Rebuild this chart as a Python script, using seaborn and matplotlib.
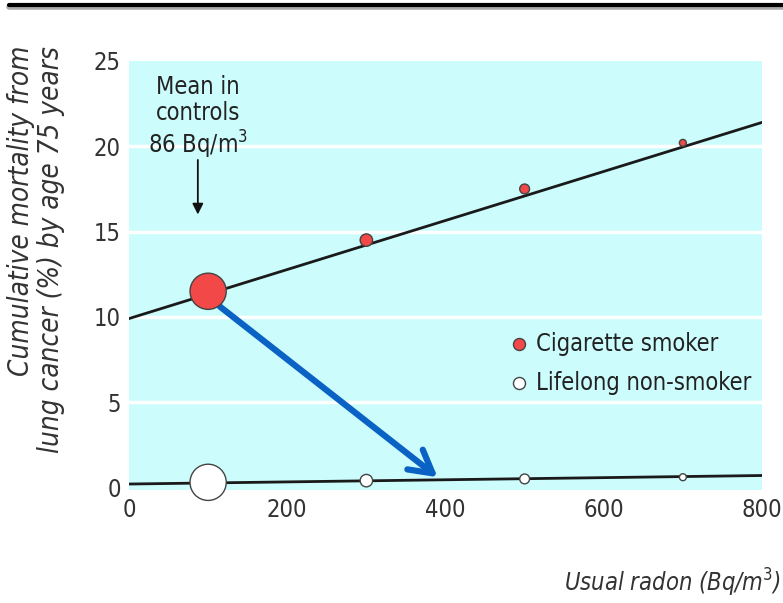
import numpy as np
import pandas as pd
import matplotlib.pyplot as plt
import seaborn as sns

# data
radon = [100, 300, 500, 700]
smoker_risk = [11.5, 14.5, 17.5, 20.2]
nonsmoker_risk = [0.3, 0.4, 0.5, 0.6]
point_size = [680, 80, 50, 25]

line_x = [0, 800]
smoker_line = [9.9, 21.4]
nonsmoker_line = [0.2, 0.7]

x_ticks = [0, 200, 400, 600, 800]
y_ticks = [0, 5, 10, 15, 20, 25]

sns.set_style("white", {"axes.facecolor": "#ccfcfc"})
plt.rcParams['font.family'] = ['DejaVu Sans']
plt.rcParams['font.stretch'] = 'condensed'

fig = plt.figure(figsize=(7.83, 6.03), dpi=100)
ax = fig.add_axes([129 / 783, 1 - 490 / 603, 633 / 783, 429 / 603])

pts = pd.DataFrame({
    'radon': radon * 2,
    'risk': smoker_risk + nonsmoker_risk,
    'group': ['Cigarette smoker'] * 4 + ['Lifelong non-smoker'] * 4,
    'size': point_size * 2,
})

for y in y_ticks[1:-1]:
    ax.axhline(y, color='white', lw=2.5, zorder=0)

sns.lineplot(x=line_x, y=smoker_line, color='#1a1a1a', lw=2, ax=ax, zorder=2)
sns.lineplot(x=line_x, y=nonsmoker_line, color='#1a1a1a', lw=2, ax=ax, zorder=2)

# blue arrow from smokers to non-smokers
ax.annotate('', xy=(390, 0.6), xytext=(115, 10.6),
            arrowprops=dict(arrowstyle='->,head_length=0.8,head_width=0.45',
                            color='#0a62c4', lw=4.5, mutation_scale=20,
                            shrinkA=0, shrinkB=0), zorder=3)

sns.scatterplot(data=pts, x='radon', y='risk', hue='group',
                palette={'Cigarette smoker': '#f24848', 'Lifelong non-smoker': 'white'},
                size='size', sizes=(min(point_size), max(point_size)),
                edgecolor='#444444', linewidth=1, legend=False, ax=ax,
                zorder=4, clip_on=False)

# mean in controls
ax.text(87, 24.2, 'Mean in\ncontrols\n86 Bq/m$^3$', ha='center', va='top',
        fontsize=17, linespacing=1.15, color='#222222')
ax.annotate('', xy=(87, 16.0), xytext=(87, 19.2),
            arrowprops=dict(arrowstyle='-|>', color='#111111', lw=1.3,
                            mutation_scale=16, shrinkA=0, shrinkB=0))

# legend drawn by hand
ax.scatter([493], [8.4], s=75, color='#f24848', edgecolor='#444444', lw=1, zorder=3)
ax.scatter([493], [6.1], s=75, color='white', edgecolor='#444444', lw=1, zorder=3)
ax.text(514, 8.4, 'Cigarette smoker', va='center', fontsize=17, color='#222222')
ax.text(514, 6.1, 'Lifelong non-smoker', va='center', fontsize=17, color='#222222')

ax.set_xlim(0, 800)
ax.set_ylim(-0.15, 25)
ax.set_xticks(x_ticks)
ax.set_yticks(y_ticks)
ax.tick_params(length=0, labelsize=17, labelcolor='#333333', pad=6)
ax.set_xlabel('')
ax.set_ylabel('')
sns.despine(ax=ax, left=True, bottom=True)

fig.text(0.046, 0.924, 'Cumulative mortality from\nlung cancer (%) by age 75 years',
         rotation=90, ha='center', va='top', multialignment='right', style='italic',
         fontsize=20, color='#333333', linespacing=1.1)
fig.text(0.997, 0.033, 'Usual radon (Bq/m$^3$)', ha='right', va='center',
         style='italic', fontsize=17, color='#333333')

# top rule
fig.add_artist(plt.Line2D([0.012, 1.0], [0.988, 0.988], color='#aaaaaa', lw=4))
fig.add_artist(plt.Line2D([0.012, 1.0], [0.991, 0.991], color='black', lw=3))

fig.savefig('out.png', dpi=100)
